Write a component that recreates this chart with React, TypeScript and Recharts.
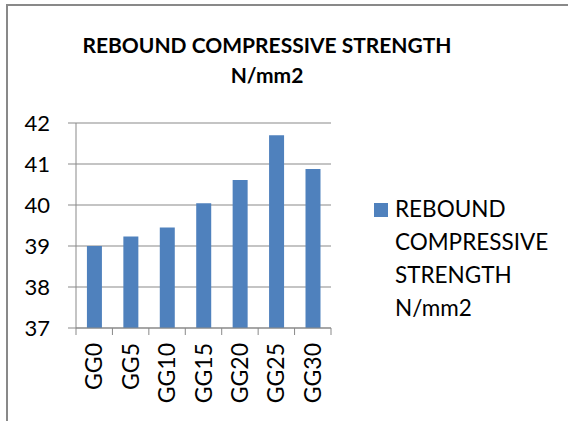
import { Bar, BarChart, CartesianGrid, Legend, XAxis, YAxis } from 'recharts'

const CATEGORIES = ['GG0', 'GG5', 'GG10', 'GG15', 'GG20', 'GG25', 'GG30']
const STRENGTH = [39.0, 39.23, 39.45, 40.04, 40.61, 41.7, 40.88]
const Y_TICKS = [37, 38, 39, 40, 41, 42]
const SERIES_NAME = 'REBOUND COMPRESSIVE STRENGTH N/mm2'
const LEGEND_LINES = ['REBOUND', 'COMPRESSIVE', 'STRENGTH', 'N/mm2']
const TITLE_LINES = ['REBOUND COMPRESSIVE STRENGTH', 'N/mm2']

const rows = CATEGORIES.map((name, i) => ({ name, strength: STRENGTH[i] }))

const FONT = 'Lato, "Open Sans", sans-serif'
const BLUE = '#4f81bd'
const GRID = '#898989'

// Excel-style category axis: tick marks sit between categories, labels rotated
function CategoryTick(props: any) {
  const { x, y, payload, index, width } = props
  const half = payload?.offset ?? width / (2 * CATEGORIES.length)
  const isLast = index === CATEGORIES.length - 1
  return (
    <g>
      <line x1={x - half} x2={x - half} y1={y} y2={y + 7} stroke={GRID} />
      {isLast && <line x1={x + half} x2={x + half} y1={y} y2={y + 7} stroke={GRID} />}
      <text
        x={x}
        y={y + 15}
        dy="0.35em"
        transform={`rotate(-90 ${x} ${y + 15})`}
        textAnchor="end"
        fill="#000"
        fontFamily={FONT}
        fontSize={23}
      >
        {payload.value}
      </text>
    </g>
  )
}

function LegendBox({ payload }: any) {
  const item = payload?.[0]
  return (
    <div style={{ position: 'relative', fontFamily: FONT, fontSize: 22.5, lineHeight: '33px', color: '#000', textAlign: 'left' }}>
      <span style={{ position: 'absolute', left: 0, top: 11.5, width: 14, height: 14, background: item?.color ?? BLUE }} />
      <div style={{ marginLeft: 21 }}>
        {LEGEND_LINES.map(l => <div key={l}>{l}</div>)}
      </div>
    </div>
  )
}

export default function App() {
  return (
    <div style={{ position: 'absolute', left: 0, top: 0, width: 568, height: 421, overflow: 'hidden', background: '#fff' }}>
      <div style={{ position: 'absolute', left: 6, top: 4, width: 700, height: 600, borderLeft: `2px solid ${GRID}`, borderTop: `2px solid ${GRID}` }} />
      <div style={{ position: 'absolute', left: 0, top: 30, width: 534, textAlign: 'center', fontFamily: FONT, fontWeight: 700, fontSize: 21, lineHeight: '30px', color: '#000' }}>
        {TITLE_LINES.map(l => <div key={l}>{l}</div>)}
      </div>
      <div style={{ position: 'absolute', left: 0, top: 0 }}>
        <BarChart width={568} height={421} data={rows} barCategoryGap="30%" margin={{ top: 123, right: 237, bottom: 0, left: 0 }}>
          <CartesianGrid stroke={GRID} vertical={false} />
          <XAxis
            dataKey="name"
            interval={0}
            height={93}
            tickSize={0}
            tickMargin={0}
            tickLine={false}
            axisLine={{ stroke: GRID }}
            tick={<CategoryTick />}
          />
          <YAxis
            width={76}
            domain={[37, 42]}
            ticks={Y_TICKS}
            interval={0}
            tickSize={8}
            tickMargin={18}
            tickLine={{ stroke: GRID }}
            axisLine={{ stroke: GRID }}
            tick={{ fill: '#000', fontFamily: FONT, fontSize: 22 }}
          />
          <Legend
            layout="horizontal"
            verticalAlign="middle"
            align="center"
            content={<LegendBox />}
            wrapperStyle={{ left: 374, top: 191.5, width: 194 }}
          />
          <Bar dataKey="strength" name={SERIES_NAME} fill={BLUE} isAnimationActive={false} />
        </BarChart>
      </div>
    </div>
  )
}
